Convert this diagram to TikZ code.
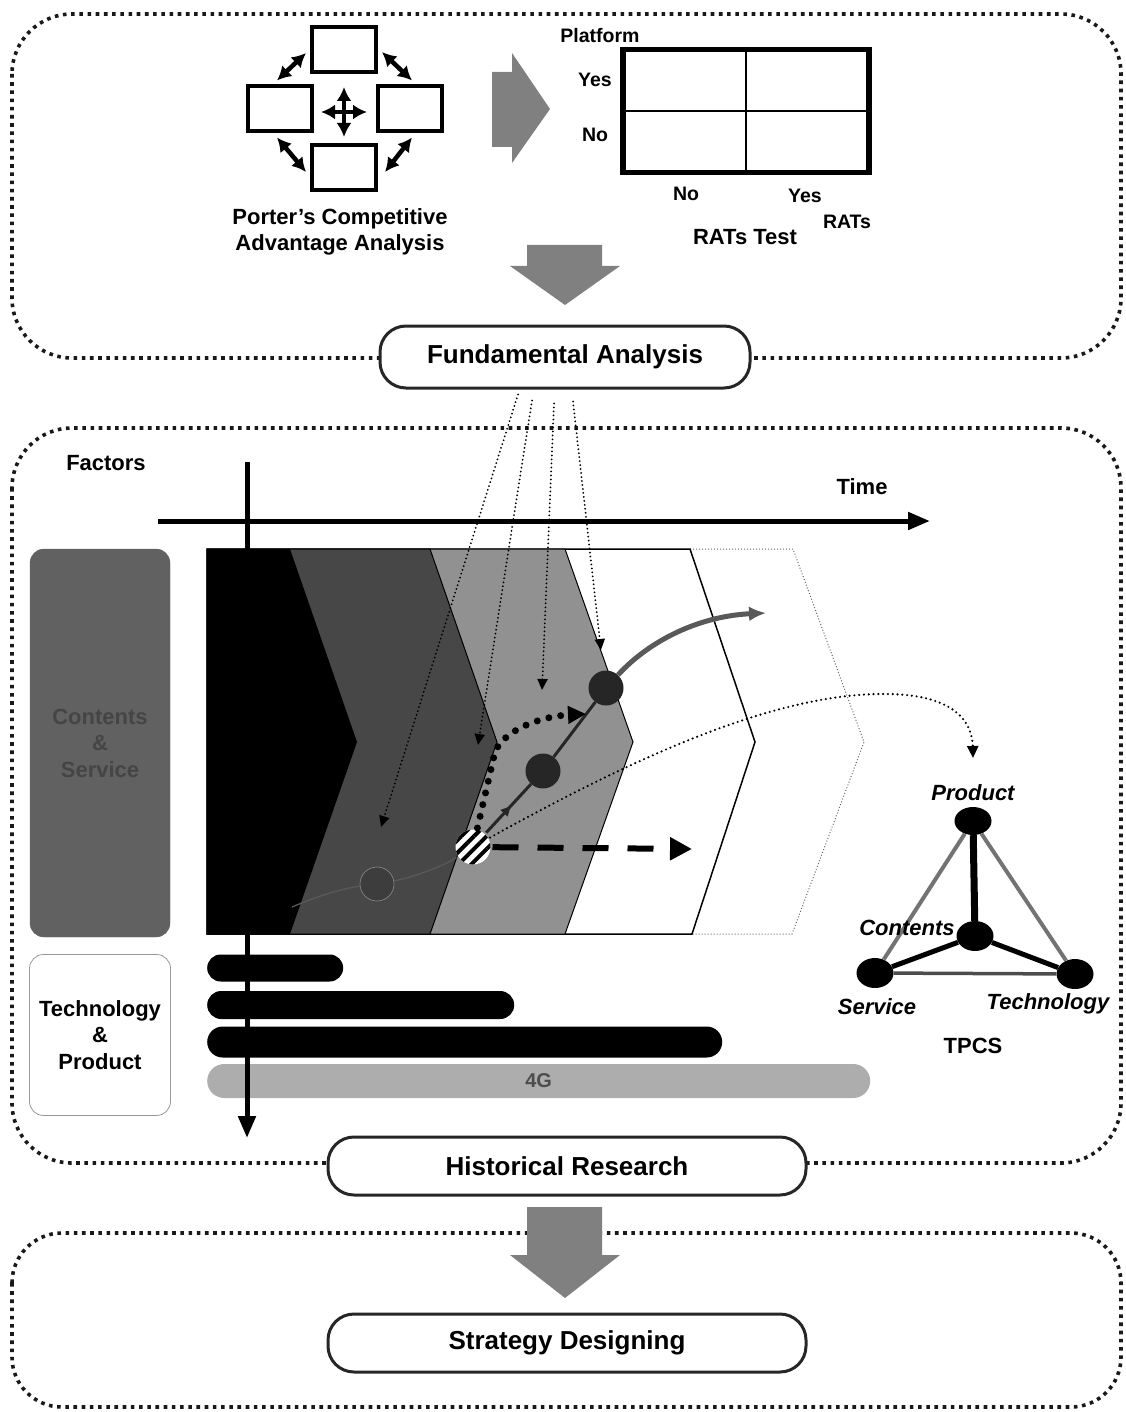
\documentclass[tikz,border=0pt]{standalone}
\usepackage{fontspec}
\setmainfont{Liberation Sans}
\usetikzlibrary{arrows.meta,calc,shapes.geometric,patterns.meta,decorations.markings}

\definecolor{chevdark}{gray}{0.28}
\definecolor{chevmid}{gray}{0.57}
\definecolor{csgray}{gray}{0.38}
\definecolor{cstext}{gray}{0.27}
\definecolor{arrgray}{gray}{0.50}
\definecolor{bargray}{gray}{0.68}
\definecolor{bartext}{gray}{0.30}
\definecolor{curvegray}{gray}{0.35}

\begin{document}
\begin{tikzpicture}[x=1pt,y=-1pt,
  panel/.style={draw=black!90, line width=3.6pt, dash pattern=on 3.6pt off 4.6pt, rounded corners=60pt},
  stage/.style={draw=black!85, line width=3pt, rounded corners=26pt, fill=white,
    font=\fontsize{26}{30}\selectfont\bfseries, inner sep=0pt},
  pbox/.style={draw, line width=4pt, minimum width=64pt, minimum height=45pt, inner sep=0pt, fill=white},
  dbl/.style={line width=4.5pt, {Latex[length=14pt,width=15pt]}-{Latex[length=14pt,width=15pt]}},
  lbl/.style={font=\fontsize{22}{26.5}\selectfont\bfseries, inner sep=0pt, align=center},
  ilbl/.style={font=\fontsize{22}{26.5}\selectfont\bfseries\itshape, inner sep=0pt},
  small/.style={font=\fontsize{19.5}{23}\selectfont\bfseries, inner sep=0pt},
  axis/.style={line width=5pt, -{Triangle[length=22pt,width=17pt]}},
  fadot/.style={line width=2pt, dash pattern=on 0pt off 4pt, line cap=round, -{Triangle[length=11pt,width=10pt]}},
  bigdots/.style={line width=7pt, dash pattern=on 0pt off 12pt, line cap=round, -{Triangle[length=18pt,width=17pt]}},
  thindots/.style={line width=2.4pt, dash pattern=on 0pt off 4.8pt, line cap=round, -{Triangle[length=12pt,width=11pt]}},
  bar/.style={fill=black, minimum height=28pt, rounded corners=14pt, inner sep=0pt, anchor=west},
  dotnode/.style={circle, minimum size=35pt, inner sep=0pt, fill=black!85},
  ell/.style={ellipse, fill=black, minimum width=37pt, minimum height=28pt, inner sep=0pt},
  midarrow/.style={postaction={decorate, decoration={markings,
    mark=at position 0.55 with {\arrow{Triangle[length=10pt,width=9pt]}}}}}
]
\useasboundingbox (0,0) rectangle (1125,1412);

% ---------- dotted panels ----------
\draw[panel] (12,14) rectangle (1121,358);
\draw[panel] (12,428) rectangle (1121,1163);
\draw[panel, rounded corners=50pt] (12,1233) rectangle (1121,1407);

% ---------- Porter's five forces sketch ----------
\node[pbox] (pt) at (344,50) {};
\node[pbox] (pl) at (280,109) {};
\node[pbox] (pr) at (410,109) {};
\node[pbox] (pb) at (344,168) {};
\draw[dbl] ($(pl.north)+(-3,-4)$) -- ($(pt.west)+(-4,3)$);
\draw[dbl] ($(pt.east)+(4,2)$) -- ($(pr.north)+(2,-4)$);
\draw[dbl] ($(pl.south)+(-3,4)$) -- ($(pb.west)+(-4,4)$);
\draw[dbl] ($(pb.east)+(7,4)$) -- ($(pr.south)+(2,4)$);
\coordinate (pc) at (344,112);
\draw[dbl] ($(pc)+(0,-25)$) -- ($(pc)+(0,25)$);
\draw[dbl] ($(pc)+(-23,0)$) -- ($(pc)+(23,0)$);
\node[lbl] (ptxt) at (340,232) {Porter’s Competitive\\Advantage Analysis};

% grey arrow towards the matrix
\fill[arrgray] (492,72) -- (512,72) -- (512,53) -- (550,109) -- (512,163) -- (512,147) -- (492,147) -- cycle;

% ---------- RATs test matrix ----------
\node[draw, line width=5.5pt, minimum width=246pt, minimum height=123pt, inner sep=0pt] (mx) at (746,111) {};
\draw[line width=2.2pt] (mx.north) -- (mx.south);
\draw[line width=2.2pt] (mx.west) -- (mx.east);
\node[small] (plat) at (600,36) {Platform};
\node[small] (yes1) at (595,80) {Yes};
\node[small] (no1) at (595,135) {No};
\node[small] (no2) at (686,194) {No};
\node[small] (yes2) at (805,196) {Yes};
\node[small] (rats) at (847,222) {RATs};
\node[lbl] (ratst) at (745,237) {RATs Test};

% grey arrow down to the first stage
\fill[arrgray] (527,245) -- (602,245) -- (602,266) -- (620,266) -- (565,305) -- (510,266) -- (527,266) -- cycle;

\node[stage, minimum width=370pt, minimum height=62pt] (fa) at (565,357) {Fundamental Analysis};

% ---------- time / factor chart ----------
\node[lbl] (factors) at (106,463) {Factors};
\node[lbl] (time) at (862,487) {Time};

% chevron bands
\draw[black!60, line width=1pt, dash pattern=on 1pt off 2pt]
  (690,549) -- (793,549) -- (864,742) -- (792,934) -- (692,934);
\draw[line width=1.5pt, fill=white] (207,549) -- (690,549) -- (755,742) -- (692,934) -- (207,934) -- cycle;
\draw[line width=1pt, fill=chevmid] (207,549) -- (565,549) -- (633,742) -- (565,934) -- (207,934) -- cycle;
\draw[line width=1pt, fill=chevdark] (207,549) -- (430,549) -- (497,742) -- (430,934) -- (207,934) -- cycle;
\fill[black] (207,549) -- (290,549) -- (357,742) -- (290,934) -- (207,934) -- cycle;

% factor boxes
\node[draw=csgray, fill=csgray, rounded corners=14pt, minimum width=140pt, minimum height=388pt,
  lbl, text=cstext] (cs) at (100,743) {Contents\\\&\\Service};
\node[draw=black!40, line width=0.8pt, rounded corners=14pt, minimum width=141pt, minimum height=161pt,
  lbl] (tpbox) at (100,1035) {Technology\\\&\\Product};

% generation bars
\node[bar, minimum width=136pt, minimum height=27pt, rounded corners=13.5pt] (b1) at (207,968) {};
\node[bar, minimum width=307pt] (b2) at (207,1005) {};
\node[bar, minimum width=515pt, minimum height=31pt, rounded corners=15.5pt] (b3) at (207,1042) {};
\node[bar, fill=bargray, minimum width=663pt, minimum height=34pt, rounded corners=17pt,
  font=\fontsize{20}{24}\selectfont\bfseries, text=bartext] (b4) at (207,1081) {4G};

% evolution points
\coordinate (lstart) at (292,907);
\node[circle, minimum size=34pt, inner sep=0pt, fill=black!76, draw=black!45, line width=0.6pt] (c1) at (377,884) {};
\node[circle, minimum size=35pt, inner sep=0pt, preaction={fill=white},
  pattern={Lines[angle=45,distance=9pt,line width=4pt]}, pattern color=black] (c2) at (473,847) {};
\node[dotnode] (c3) at (543,771) {};
\node[dotnode] (c4) at (606,688) {};
\coordinate (tip1) at (766,613);
\coordinate (dturn) at (495,752);
\coordinate (dottip) at (586,714);
\coordinate (dashtip) at (692,849);
\coordinate (tpin) at (973,758);

\draw[black!65, line width=1.3pt] (lstart) .. controls (320,895) and (345,888) .. (c1);
\draw[black!65, line width=1.3pt] (c1) .. controls (410,878) and (440,868) .. (c2);
\draw[black!85, line width=3pt, midarrow] (c2) -- (c3);
\draw[black!85, line width=3pt] (c3) -- (c4);
\draw[curvegray, line width=5pt, -{Latex[length=17pt,width=15pt]}]
  (c4) .. controls (650,640) and (700,616) .. (tip1);
\draw[bigdots] (c2) -- (dturn) .. controls (505,728) and (545,716) .. (dottip);
\draw[line width=6pt, dash pattern=on 26pt off 19pt, -{Triangle[length=22pt,width=22pt]}] (c2) -- (dashtip);
\draw[thindots] (c2) .. controls (630,760) and (770,695) .. (880,694)
  .. controls (945,693) and (972,715) .. (tpin);

% dotted links from the fundamental analysis
\coordinate (ea) at (381,827);
\coordinate (eb) at (478,745);
\coordinate (ec) at (542,690);
\coordinate (ed) at (601,650);
\draw[fadot] ($(fa.south)+(-47,5)$) -- (ea);
\draw[fadot] ($(fa.south)+(-33,11)$) -- (eb);
\draw[fadot] ($(fa.south)+(-11,14)$) -- (ec);
\draw[fadot] ($(fa.south)+(8,12)$) -- (ed);

% axes
\coordinate (vtop) at (247,462);
\coordinate (vbot) at (247,1138);
\coordinate (hleft) at (158,521);
\coordinate (hright) at (930,521);
\draw[axis] (vtop) -- (vbot);
\draw[axis] (hleft) -- (hright);

% ---------- TPCS tetrahedron ----------
\node[ell] (tP) at (973,821) {};
\node[ell, minimum height=30pt] (tC) at (975,936) {};
\node[ell, minimum height=30pt] (tS) at (875,973) {};
\node[ell, minimum height=30pt] (tT) at (1075,974) {};
\draw[black!55, line width=4pt] (tP) -- (tS);
\draw[black!55, line width=4pt] (tP) -- (tT);
\draw[black!70, line width=3.5pt] (tS) -- (tT);
\draw[line width=7pt] (tP) -- (tC);
\draw[line width=5pt] (tC) -- (tS);
\draw[line width=5pt] (tC) -- (tT);
\node[ilbl] (lP) at (973,793) {Product};
\node[ilbl] (lC) at (907,928) {Contents};
\node[ilbl] (lS) at (877,1007) {Service};
\node[ilbl] (lT) at (1048,1004) {Technology};
\node[lbl] (lTPCS) at (973,1046) {TPCS};

% ---------- later stages ----------
\node[stage, minimum width=478pt, minimum height=58pt] (hr) at (567,1166) {Historical Research};
\fill[arrgray] (527,1207) -- (602,1207) -- (602,1255) -- (620,1255) -- (565,1298) -- (510,1255) -- (527,1255) -- cycle;
\node[stage, minimum width=478pt, minimum height=58pt] (sd) at (567,1343) {Strategy Designing};
\end{tikzpicture}
\end{document}
